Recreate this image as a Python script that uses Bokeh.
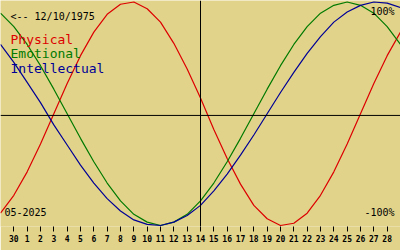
from bokeh.plotting import figure
from bokeh.models import Range1d, Span, Label, LinearAxis, FixedTicker
from bokeh.embed import file_html
from bokeh.resources import INLINE

# Day index: 0 = 30 April, 1 = 1 May ... 29 = 29 May; -1 = 29 April
days = list(range(-1, 30))
tick_days = list(range(0, 29))
tick_labels = ["30"] + [str(d) for d in range(1, 29)]
today_index = 14

physical = [-0.89, -0.73, -0.52, -0.27, 0.00, 0.27, 0.52, 0.73, 0.89, 0.98, 1.00,
            0.94, 0.82, 0.63, 0.40, 0.14, -0.14, -0.40, -0.63, -0.82, -0.94, -1.00,
            -0.98, -0.89, -0.73, -0.52, -0.27, 0.00, 0.27, 0.52, 0.73]
emotional = [0.90, 0.78, 0.62, 0.43, 0.22, 0.00, -0.22, -0.43, -0.62, -0.78, -0.90,
             -0.97, -1.00, -0.97, -0.90, -0.78, -0.62, -0.43, -0.22, 0.00, 0.22,
             0.43, 0.62, 0.78, 0.90, 0.97, 1.00, 0.97, 0.90, 0.78, 0.62]
intellectual = [0.62, 0.46, 0.28, 0.10, -0.10, -0.28, -0.46, -0.62, -0.76, -0.87, -0.95,
                -0.99, -1.00, -0.97, -0.91, -0.82, -0.69, -0.54, -0.37, -0.19, 0.00,
                0.19, 0.37, 0.54, 0.69, 0.82, 0.91, 0.97, 1.00, 0.99, 0.95]

BG = "#E1D38A"
RED = "#DD0000"
GREEN = "#007A00"
BLUE = "#000096"
MONO = "DejaVu Sans Mono"

p = figure(width=400, height=250, output_backend="svg", toolbar_location=None,
           x_range=Range1d(-1, 29), y_range=Range1d(-1.009, 1.0134),
           min_border_left=0, min_border_right=0, min_border_top=0, min_border_bottom=24,
           x_axis_type=None, y_axis_type=None)
p.background_fill_color = BG
p.border_fill_color = BG
p.outline_line_color = None
p.xgrid.visible = False
p.ygrid.visible = False

ax = LinearAxis(ticker=FixedTicker(ticks=tick_days),
                major_label_overrides={d: lab for d, lab in zip(tick_days, tick_labels)})
ax.axis_line_color = None
ax.major_tick_in = 0
ax.major_tick_out = 5
ax.major_tick_line_color = "black"
ax.minor_tick_line_color = None
ax.major_label_standoff = 3
ax.major_label_text_font = MONO
ax.major_label_text_font_style = "bold"
ax.major_label_text_font_size = "8px"
ax.major_label_text_color = "black"
p.add_layout(ax, "below")

p.add_layout(Span(location=-0.015, dimension="width", line_color="black", line_width=1))
p.add_layout(Span(location=today_index, dimension="height", line_color="black", line_width=1))

p.line(days, physical, line_color=RED, line_width=1.2)
p.line(days, emotional, line_color=GREEN, line_width=1.2)
p.line(days, intellectual, line_color=BLUE, line_width=1.2)

def lab(text, x, y, color="black", size="10px", align="left"):
    p.add_layout(Label(x=x, y=y, x_units="screen", y_units="screen", text=text,
                       text_color=color, text_font=MONO, text_font_size=size,
                       text_align=align, text_baseline="alphabetic"))

H = 230.5  # reference offset for label baselines
lab("<-- 12/10/1975", 10, H - 20.7)
lab("Physical", 10, H - 43.3, RED, "13px")
lab("Emotional", 10, H - 57.8, GREEN, "13px")
lab("Intellectual", 10, H - 72.5, BLUE, "13px")
lab("100%", 394, H - 15.7, align="right")
lab("-100%", 394, H - 216.7, align="right")
lab("05-2025", 4, H - 215.7)

open("out.html", "w").write(file_html(p, INLINE))
